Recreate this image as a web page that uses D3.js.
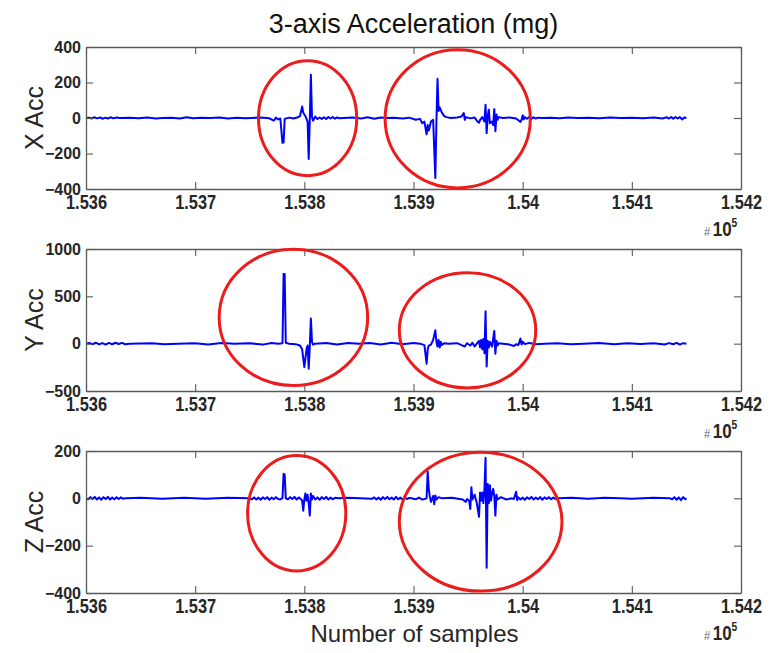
<!DOCTYPE html>
<html>
<head>
<meta charset="utf-8">
<script src="https://cdn.jsdelivr.net/npm/d3@7"></script>
<style>
  body { margin: 0; background: #ffffff; }
  text { font-family: "Liberation Sans", Arial, Helvetica, sans-serif; }
</style>
</head>
<body>
<svg id="chart" width="774" height="653"></svg>
<script>
// ---- data -------------------------------------------------------------
const sampleDomain = [153600, 154200];
const sampleTicks = [153600, 153700, 153800, 153900, 154000, 154100, 154200];
const sampleTickLabels = ["1.536", "1.537", "1.538", "1.539", "1.54", "1.541", "1.542"];

const channelNames = ["X Acc", "Y Acc", "Z Acc"];
const xAccDomain = [-400, 400];
const yAccDomain = [-500, 1000];
const zAccDomain = [-400, 200];
const xAccTicks = [-400, -200, 0, 200, 400];
const yAccTicks = [-500, 0, 500, 1000];
const zAccTicks = [-400, -200, 0, 200];

// [sample offset from 153600, acceleration in mg]
const xAcc = [
  [0,0],[3,2],[5,-3],[8,4],[10,-2],[13,3],[15,-4],[18,2],[20,-3],[23,4],[25,-2],[28,3],[31,0],[40,2],
  [48,-2],[56,3],[64,-3],[70,0],[78,2],[86,-3],[92,4],[98,-2],[106,2],[114,0],[122,3],[130,-3],[138,2],
  [146,-2],[152,0],[160,3],[168,-2],[172,-15],[174,2],[176,-8],[178,-3],[180,-140],[181,-138],[182,-5],
  [186,2],[190,-3],[194,4],[196,10],[198,65],[199,30],[201,10],[203,-20],[204,-231],[205,-10],[206,244],
  [207,5],[208,-15],[210,8],[212,-6],[214,3],[216,-5],[218,4],[220,-6],[222,5],[224,-3],[226,6],[228,-4],
  [230,3],[232,-2],[236,0],[244,3],[252,-3],[258,4],[264,-4],[270,3],[276,0],[282,2],[290,-3],[296,2],
  [302,-10],[306,-5],[308,-30],[310,-20],[312,-92],[313,-40],[314,-70],[316,-20],[318,-10],[320,-338],
  [321,-20],[322,221],[323,40],[324,60],[326,30],[328,12],[330,5],[334,0],[340,3],[344,8],[346,28],
  [347,-10],[348,5],[352,-2],[356,3],[358,-15],[360,-27],[361,-10],[363,5],[365,-20],[366,75],[367,-85],
  [368,10],[369,47],[370,-30],[372,-20],[373,-40],[374,50],[375,-75],[376,20],[377,-10],[378,5],[382,0],
  [388,3],[394,-3],[398,-22],[399,-10],[400,15],[401,-8],[402,5],[404,-4],[406,6],[408,-5],[410,4],
  [412,-3],[414,2],[418,0],[426,2],[434,-2],[442,3],[450,0],[460,2],[470,-2],[480,3],[490,0],[500,2],
  [510,-2],[520,3],[528,-3],[532,4],[534,-3],[536,5],[538,-4],[540,6],[542,-3],[544,5],[546,-8],[548,3],
  [550,0]
];

const yAcc = [
  [0,0],[3,8],[6,-6],[9,10],[12,-8],[15,6],[18,-10],[21,8],[24,-6],[27,10],[30,-4],[33,8],[36,-6],
  [40,0],[60,5],[72,-5],[84,0],[100,5],[112,-8],[124,6],[136,0],[150,5],[162,-10],[170,8],[176,0],
  [180,5],[181,736],[182,736],[183,10],[186,0],[192,-5],[196,-20],[198,-60],[200,-248],[202,-60],
  [203,-20],[204,-265],[205,-30],[206,265],[207,20],[208,-10],[210,0],[220,8],[230,-10],[240,6],[250,0],
  [260,6],[270,-8],[280,10],[290,-6],[300,8],[306,0],[310,-15],[312,-212],[313,-60],[314,-20],[316,-10],
  [318,40],[320,141],[321,20],[322,-30],[323,40],[324,-40],[325,20],[326,-15],[328,5],[332,0],[340,5],
  [345,-20],[347,-30],[349,5],[352,-20],[354,10],[356,-30],[358,0],[360,30],[361,-40],[362,40],[363,-60],
  [364,50],[365,-100],[366,343],[367,-241],[368,30],[369,-40],[370,20],[372,-30],[374,134],[375,-106],
  [376,30],[377,-20],[378,5],[382,0],[388,-10],[392,-25],[394,-5],[396,-15],[398,53],[399,-10],[400,20],
  [402,-5],[406,8],[412,-6],[420,0],[432,5],[444,-5],[456,0],[470,6],[484,-6],[496,4],[508,-4],[520,5],
  [530,-8],[534,6],[538,-6],[541,8],[544,-10],[547,5],[550,0]
];

const zAcc = [
  [0,0],[2,-4],[4,5],[6,-3],[8,6],[10,-5],[12,4],[14,-6],[16,5],[18,-3],[20,6],[22,-5],[24,3],[26,-4],
  [28,5],[30,-3],[32,4],[34,-2],[36,0],[50,2],[70,-2],[90,2],[110,-2],[130,2],[150,0],[152,-4],[154,4],
  [156,-5],[158,3],[160,-6],[162,4],[164,-3],[166,5],[168,-6],[170,3],[172,-4],[174,5],[176,-3],[178,-5],
  [180,2],[181,104],[182,100],[183,0],[185,-4],[187,5],[189,-3],[191,6],[193,-5],[195,4],[197,-4],
  [198,-10],[199,-52],[200,-5],[201,21],[202,-10],[203,15],[204,-20],[205,-73],[206,20],[207,-5],[208,10],
  [210,-5],[212,4],[214,-6],[216,5],[218,-3],[220,6],[222,-5],[224,3],[226,-4],[228,2],[232,0],[240,2],
  [262,-2],[264,4],[266,-5],[268,3],[270,-6],[272,5],[274,-3],[276,6],[278,-4],[280,3],[282,-5],[284,6],
  [286,-4],[288,3],[290,-6],[292,5],[294,-3],[296,2],[298,0],[302,-4],[305,3],[308,-5],[310,-3],[312,0],
  [313,113],[314,40],[315,5],[316,-15],[318,10],[319,-25],[320,12],[321,-5],[323,5],[326,0],[335,2],
  [345,-5],[348,-15],[349,-3],[351,-10],[352,-45],[353,47],[354,-5],[356,15],[358,-20],[360,-78],
  [361,25],[362,-10],[363,25],[364,-20],[365,40],[366,171],[367,-293],[368,61],[369,-20],[370,55],
  [371,-10],[372,20],[373,40],[374,10],[375,-73],[376,15],[377,-5],[380,5],[385,-5],[390,0],[392,-3],
  [394,28],[395,-8],[396,4],[398,-5],[400,3],[402,-6],[404,4],[406,-3],[408,6],[410,-5],[412,3],[414,-4],
  [416,5],[418,-6],[420,4],[422,-3],[424,5],[426,-4],[428,3],[430,-2],[432,0],[445,2],[460,-2],[475,2],
  [490,0],[500,-2],[520,2],[535,0],[537,-4],[539,5],[541,-6],[543,4],[545,-8],[547,5],[549,-4],[550,0]
];

// highlighted regions: [first sample, last sample, top value, bottom value]
const xAccRings = [[153758, 153848, 323, -325], [153874, 154007, 385, -394]];
const yAccRings = [[153722, 153858, 998, -443], [153887, 154012, 749, -467]];
const zAccRings = [[153748, 153838, 181, -307], [153887, 154036, 195, -392]];

// ---- layout -----------------------------------------------------------
const svg = d3.select("#chart");
const plotLeft = 86, plotWidth = 655, plotHeight = 142;
const panelTops = [47, 249, 451];
const axisColor = "#5a5a5a";
const textColor = "#262626";

svg.append("text")
  .attr("x", plotLeft + plotWidth / 2)
  .attr("y", 33)
  .attr("text-anchor", "middle")
  .attr("font-size", 27)
  .attr("fill", "#111")
  .text("3-axis Acceleration (mg)");

const panels = [
  { name: channelNames[0], series: xAcc, domain: xAccDomain, ticks: xAccTicks, rings: xAccRings },
  { name: channelNames[1], series: yAcc, domain: yAccDomain, ticks: yAccTicks, rings: yAccRings },
  { name: channelNames[2], series: zAcc, domain: zAccDomain, ticks: zAccTicks, rings: zAccRings }
];

const x = d3.scaleLinear().domain(sampleDomain).range([0, plotWidth]);

panels.forEach((p, i) => {
  const g = svg.append("g").attr("transform", `translate(${plotLeft},${panelTops[i]})`);
  const y = d3.scaleLinear().domain(p.domain).range([plotHeight, 0]);

  // signal
  const line = d3.line()
    .x(d => x(sampleDomain[0] + d[0]))
    .y(d => y(d[1]));
  g.append("path")
    .datum(p.series)
    .attr("fill", "none")
    .attr("stroke", "#0000ff")
    .attr("stroke-width", 2)
    .attr("stroke-linejoin", "round")
    .attr("d", line);

  // axes box with inward ticks on all four sides
  const styleAxis = sel => {
    sel.select(".domain").attr("stroke", axisColor).attr("stroke-width", 1.3);
    sel.selectAll(".tick line").attr("stroke", axisColor).attr("stroke-width", 1.1);
  };

  const bottom = g.append("g")
    .attr("transform", `translate(0,${plotHeight})`)
    .call(d3.axisBottom(x).tickValues(sampleTicks)
      .tickFormat((d, k) => sampleTickLabels[k])
      .tickSizeInner(-7).tickSizeOuter(0).tickPadding(6));
  styleAxis(bottom);
  bottom.selectAll("text")
    .attr("font-size", 20).attr("font-weight", "bold").attr("fill", textColor)
    .attr("transform", "scale(0.82,1)");

  const top = g.append("g")
    .call(d3.axisTop(x).tickValues(sampleTicks).tickFormat("")
      .tickSizeInner(-7).tickSizeOuter(0));
  styleAxis(top);

  const left = g.append("g")
    .call(d3.axisLeft(y).tickValues(p.ticks).tickFormat(d3.format("d"))
      .tickSizeInner(-7).tickSizeOuter(0).tickPadding(5));
  styleAxis(left);
  left.selectAll("text")
    .attr("font-size", 16).attr("font-weight", "bold").attr("fill", textColor);

  const right = g.append("g")
    .attr("transform", `translate(${plotWidth},0)`)
    .call(d3.axisRight(y).tickValues(p.ticks).tickFormat("")
      .tickSizeInner(-7).tickSizeOuter(0));
  styleAxis(right);

  // channel label
  g.append("text")
    .attr("transform", `translate(${-43},${plotHeight / 2}) rotate(-90)`)
    .attr("text-anchor", "middle")
    .attr("font-size", 25)
    .attr("fill", textColor)
    .text(p.name);

  // exponent note under the sample axis
  const ex = g.append("g")
    .attr("transform", `translate(${plotWidth - 37},${plotHeight + 47}) scale(0.85,1)`);
  const exText = ex.append("text").attr("fill", textColor);
  exText.append("tspan").attr("font-size", 13).attr("fill", "#666").text("#");
  exText.append("tspan").attr("dx", 3).attr("font-size", 20).attr("font-weight", "bold").text("10");
  exText.append("tspan").attr("dy", -9).attr("font-size", 12).attr("font-weight", "bold").text("5");

  // highlighted regions
  g.selectAll("ellipse.ring")
    .data(p.rings)
    .join("ellipse")
    .attr("class", "ring")
    .attr("cx", d => (x(d[0]) + x(d[1])) / 2)
    .attr("cy", d => (y(d[2]) + y(d[3])) / 2)
    .attr("rx", d => (x(d[1]) - x(d[0])) / 2)
    .attr("ry", d => (y(d[3]) - y(d[2])) / 2)
    .attr("fill", "none")
    .attr("stroke", "#ec1c1c")
    .attr("stroke-width", 3);
});

svg.append("text")
  .attr("x", plotLeft + plotWidth / 2 + 1)
  .attr("y", 642)
  .attr("text-anchor", "middle")
  .attr("font-size", 24)
  .attr("fill", textColor)
  .text("Number of samples");
</script>
</body>
</html>
